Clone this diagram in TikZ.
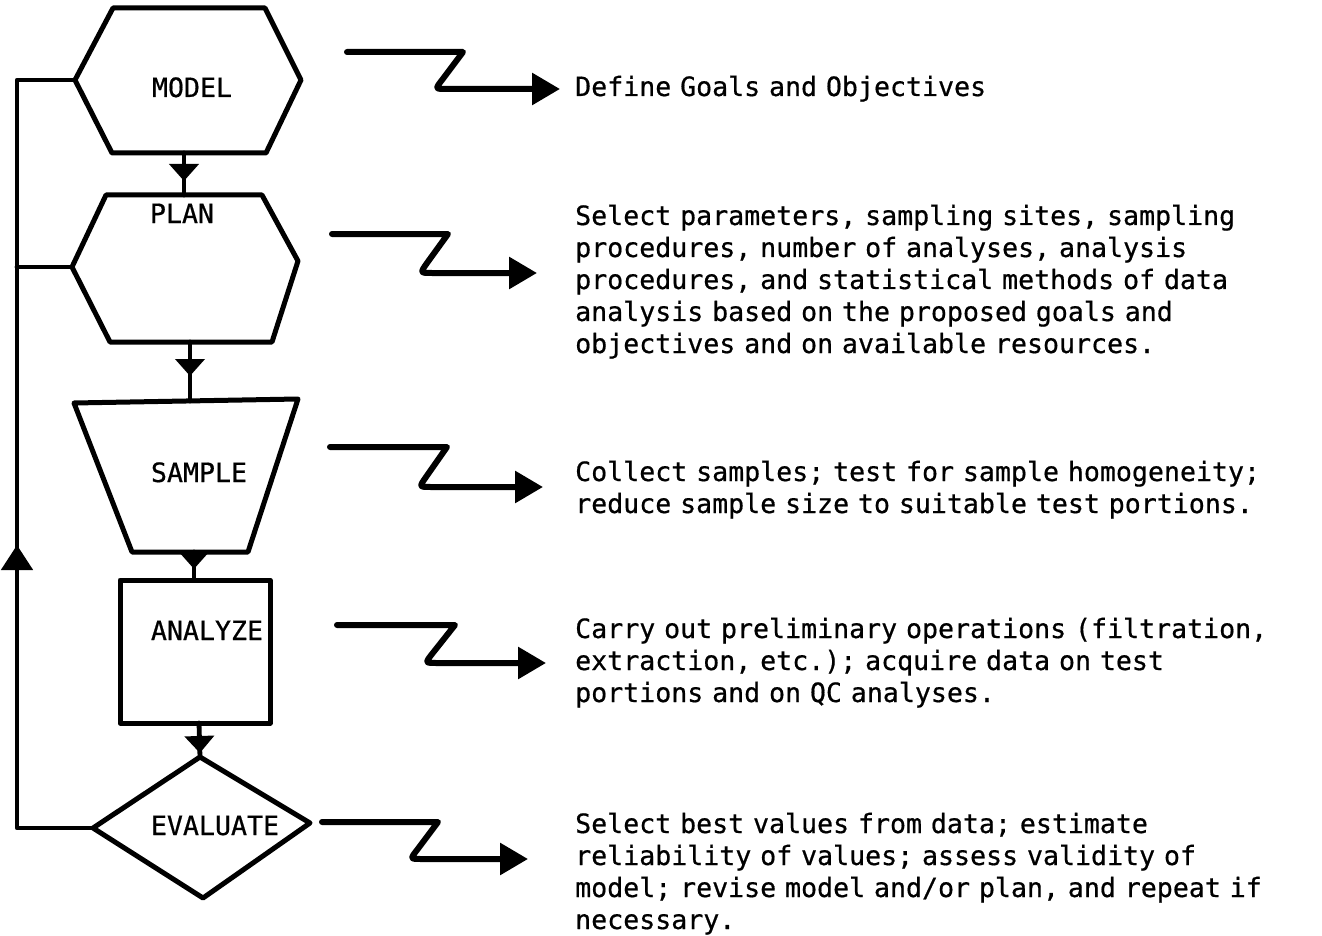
\documentclass[tikz,border=0pt]{standalone}
\usepackage{fontspec}
\newfontfamily\typew[FakeBold=0.6]{DejaVu Sans Mono}
\usetikzlibrary{arrows.meta,decorations.markings}
\begin{document}
\begin{tikzpicture}[x=1pt,y=-1pt,line join=round,line cap=round,
  outline/.style={line width=5pt},
  conn/.style={line width=4.8pt},
  squig/.style={line width=6pt,-{Triangle[length=28pt,width=31pt]}},
  lbl/.style={font=\typew\fontsize{26.6}{32}\selectfont,inner sep=0pt,anchor=base},
  desc/.style={font=\typew\fontsize{26.6}{32}\selectfont,inner sep=0pt,anchor=base west,text width=760pt,align=left},
  midtri/.style={postaction={decorate},decoration={markings,mark=at position #1 with {\arrow{Triangle[length=17pt,width=29pt]}}}},
  looptri/.style={postaction={decorate},decoration={markings,mark=at position #1 with {\arrow{Triangle[length=25pt,width=31pt]}}}}
]
\useasboundingbox (0,0) rectangle (1322,936);

% ---- shapes ----
% MODEL hexagon
\coordinate (model-w) at (75,80);
\coordinate (model-s) at (184,153);
\draw[outline] (113,8) -- (265,8) -- (301,80) -- (266,153) -- (112,153) -- (model-w) -- cycle;
\node[lbl] (model) at (192,97) {MODEL};

% PLAN hexagon
\coordinate (plan-n) at (184,195);
\coordinate (plan-w) at (72,267);
\coordinate (plan-s) at (190,342);
\draw[outline] (106,195) -- (262,195) -- (298,261) -- (272,342) -- (110,342) -- (plan-w) -- cycle;
\node[lbl] (plan) at (182,223) {PLAN};

% SAMPLE trapezoid
\coordinate (sample-n) at (190,401);
\coordinate (sample-s) at (194,552);
\draw[outline] (74,403) -- (298,399) -- (248,552) -- (132,552) -- cycle;
\node[lbl] (sample) at (199,482) {SAMPLE};

% ANALYZE rectangle
\coordinate (analyze-n) at (194,580);
\coordinate (analyze-s) at (199,723);
\draw[outline] (120,580) rectangle (270,723);
\node[lbl] (analyze) at (207,640) {ANALYZE};

% EVALUATE diamond
\coordinate (eval-n) at (200,757);
\coordinate (eval-w) at (93,828);
\draw[outline] (eval-n) -- (310,823) -- (203,898) -- (eval-w) -- cycle;
\node[lbl] (evaluate) at (215,835) {EVALUATE};

% ---- flow connectors ----
\draw[conn,midtri=28pt] (model-s) -- (plan-n);
\draw[conn,midtri=34pt] (plan-s) -- (sample-n);
\draw[conn,midtri=17pt] (sample-s) -- (analyze-n);
\draw[conn,midtri=30pt] (analyze-s) -- (eval-n);

% ---- feedback loop ----
\coordinate (lb) at (17,828);
\coordinate (lt) at (17,80);
\draw[conn,looptri=359pt] (eval-w) -- (lb) -- (lt) -- (model-w);
\draw[conn] (plan-w) -- (plan-w -| lt);

% ---- descriptions ----
\node[desc] (dmodel) at (575,96) {Define Goals and Objectives};
\node[desc] (dplan) at (575,225) {Select parameters, sampling sites, sampling\\procedures, number of analyses, analysis\\procedures, and statistical methods of data\\analysis based on the proposed goals and\\objectives and on available resources.};
\node[desc] (dsample) at (575,481) {Collect samples; test for sample homogeneity;\\reduce sample size to suitable test portions.};
\node[desc] (danalyze) at (575,638) {Carry out preliminary operations (filtration,\\extraction, etc.); acquire data on test\\portions and on QC analyses.};
\node[desc] (deval) at (575,833) {Select best values from data; estimate\\reliability of values; assess validity of\\model; revise model and/or plan, and repeat if\\necessary.};

% ---- squiggle arrows ----
\coordinate (sm) at (347,52);  \coordinate (em) at (560,89);
\draw[squig] (sm) -- (463,52) -- (442,80) .. controls (435,89) .. (447,89) -- (em);
\coordinate (sp) at (332,234); \coordinate (ep) at (537,273);
\draw[squig] (sp) -- (448,234) -- (427,263) .. controls (420,273) .. (432,273) -- (ep);
\coordinate (ss) at (330,447); \coordinate (es) at (543,487);
\draw[squig] (ss) -- (447,447) -- (426,477) .. controls (419,487) .. (431,487) -- (es);
\coordinate (sa) at (337,625); \coordinate (ea) at (546,663);
\draw[squig] (sa) -- (455,625) -- (432,654) .. controls (425,663) .. (437,663) -- (ea);
\coordinate (se) at (322,822); \coordinate (ee) at (528,859);
\draw[squig] (se) -- (438,822) -- (417,850) .. controls (410,859) .. (422,859) -- (ee);
\end{tikzpicture}
\end{document}
